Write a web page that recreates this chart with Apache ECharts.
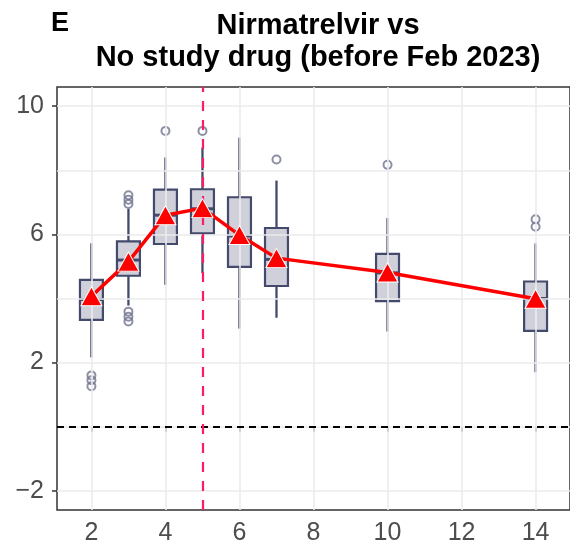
<!DOCTYPE html>
<html>
<head>
<meta charset="utf-8">
<script src="https://cdn.jsdelivr.net/npm/echarts@6/dist/echarts.min.js"></script>
<style>
html,body{margin:0;padding:0;background:#fff;}
#chart{width:570px;height:547px;}
</style>
</head>
<body>
<div id="chart"></div>
<script>
// Days (x positions of each box)
var days = [2, 3, 4, 5, 6, 7, 10, 14];
// Box statistics: [lower whisker, Q1, median, Q3, upper whisker]
var boxStats = [
  [2.16, 3.33, 3.97, 4.58, 5.72],
  [3.78, 4.71, 5.20, 5.78, 6.80],
  [4.43, 5.70, 6.60, 7.40, 8.40],
  [4.79, 6.03, 6.80, 7.41, 8.71],
  [3.06, 4.99, 5.95, 7.16, 9.02],
  [3.40, 4.39, 5.22, 6.20, 7.68],
  [2.97, 3.92, 4.80, 5.39, 6.51],
  [1.70, 2.99, 4.00, 4.53, 5.72]
];
// Outliers: [day, value]
var outlierDays   = [2, 2, 2, 3, 3, 3, 3, 3, 3, 4, 5, 7, 10, 14, 14];
var outlierValues = [1.60, 1.45, 1.26, 7.22, 7.08, 6.95, 3.59, 3.43, 3.28, 9.23, 9.23, 8.34, 8.17, 6.47, 6.24];
// Mean per day
var means = [4.07, 5.15, 6.60, 6.82, 5.98, 5.26, 4.81, 3.99];
// Axis ticks
var xTicks = [2, 4, 6, 8, 10, 12, 14];
var yTicks = [-2, 2, 6, 10];
var yGrid = [-2, 0, 2, 4, 6, 8, 10];
var refDay = 5;
var refValue = 0;

var boxData = days.map(function (d, i) { return [d].concat(boxStats[i]); });
var outlierData = outlierDays.map(function (d, i) { return [d, outlierValues[i]]; });
var meanData = days.map(function (d, i) { return [d, means[i]]; });

var chart = echarts.init(document.getElementById('chart'), null, {renderer: 'canvas'});
var boxHalf = 0.31;
var stroke = '#434a6c';
var FONT = 'Liberation Sans, Arial, sans-serif';

var gridLines = [];
yGrid.forEach(function (v) { gridLines.push({yAxis: v}); });
xTicks.forEach(function (v) { gridLines.push({xAxis: v}); });

var option = {
  animation: false,
  backgroundColor: '#ffffff',
  title: {
    text: 'Nirmatrelvir vs\nNo study drug (before Feb 2023)',
    left: 313,
    top: 5,
    textAlign: 'center',
    textStyle: {fontFamily: FONT, fontWeight: 'bold', fontSize: 29, lineHeight: 32, color: '#000'}
  },
  graphic: [{
    type: 'text', left: 51, top: 10,
    style: {text: 'E', font: 'bold 27px "Liberation Sans", Arial, sans-serif', fill: '#000'}
  }],
  grid: {
    left: 57, top: 87, width: 516, height: 423,
    show: true, borderColor: '#333333', borderWidth: 1.5, backgroundColor: 'transparent'
  },
  xAxis: {
    type: 'value', min: 1.07, max: 14.93,
    axisLine: {show: false},
    splitLine: {show: false},
    axisTick: {show: true, length: 5, customValues: xTicks, lineStyle: {color: '#333', width: 1.5}},
    axisLabel: {customValues: xTicks, margin: 11, fontSize: 25, color: '#4d4d4d', fontFamily: FONT}
  },
  yAxis: {
    type: 'value', min: -2.6, max: 10.6,
    axisLine: {show: false},
    splitLine: {show: false},
    axisTick: {show: true, length: 5, customValues: yTicks, lineStyle: {color: '#333', width: 1.5}},
    axisLabel: {customValues: yTicks, margin: 13, fontSize: 25, color: '#4d4d4d', fontFamily: FONT,
      formatter: function (v) { return v < 0 ? '\u2212' + Math.abs(v) : String(v); }}
  },
  series: [
    {
      type: 'line', data: [], silent: true,
      markLine: {silent: true, symbol: 'none', label: {show: false}, animation: false,
        lineStyle: {color: '#ebebeb', width: 1.6, type: 'solid'}, data: gridLines}
    },
    {
      type: 'line', data: [], silent: true, z: 3,
      markLine: {silent: true, symbol: 'none', label: {show: false}, animation: false,
        data: [
          {yAxis: refValue, lineStyle: {color: '#000', width: 2, type: [7, 5]}},
          {xAxis: refDay, lineStyle: {color: '#ff1a66', width: 2.2, type: [10, 9]}}
        ]}
    },
    {
      type: 'custom', z: 4,
      data: boxData,
      encode: {x: 0, y: [1, 2, 3, 4, 5]},
      renderItem: function (params, api) {
        var x = api.value(0);
        var lo = api.coord([x, api.value(1)]);
        var q1 = api.coord([x, api.value(2)]);
        var md = api.coord([x, api.value(3)]);
        var q3 = api.coord([x, api.value(4)]);
        var hi = api.coord([x, api.value(5)]);
        var l = api.coord([x - boxHalf, 0])[0];
        var r = api.coord([x + boxHalf, 0])[0];
        var ls = {stroke: stroke, lineWidth: 2.3};
        return {type: 'group', children: [
          {type: 'line', shape: {x1: lo[0], y1: lo[1], x2: q1[0], y2: q1[1]}, style: ls},
          {type: 'line', shape: {x1: hi[0], y1: hi[1], x2: q3[0], y2: q3[1]}, style: ls},
          {type: 'rect', shape: {x: l, y: q3[1], width: r - l, height: q1[1] - q3[1]},
            style: {fill: 'rgba(185,186,202,0.68)', stroke: stroke, lineWidth: 2.2}},
          {type: 'line', shape: {x1: l, y1: md[1], x2: r, y2: md[1]}, style: {stroke: stroke, lineWidth: 3}}
        ]};
      }
    },
    {
      type: 'scatter', z: 4, data: outlierData, symbol: 'circle', symbolSize: 8,
      itemStyle: {color: 'transparent', borderColor: '#70738f', borderWidth: 2}
    },
    {
      type: 'line', z: 5, data: meanData, symbol: 'triangle', symbolSize: [21, 19],
      lineStyle: {color: '#ff0000', width: 3.5},
      itemStyle: {color: '#ff0000', borderColor: '#ffffff', borderWidth: 1}
    }
  ]
};
chart.setOption(option);
</script>
</body>
</html>
